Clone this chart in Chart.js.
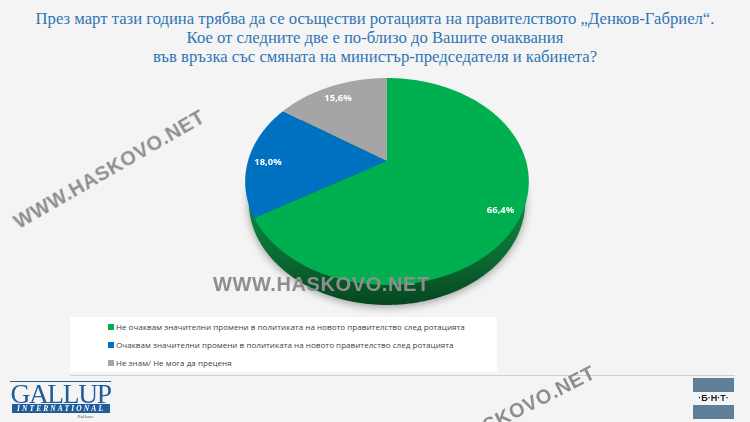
<!DOCTYPE html>
<html>
<head>
<meta charset="utf-8">
<script src="https://cdn.jsdelivr.net/npm/chart.js@4/dist/chart.umd.min.js"></script>
<style>
html, body { margin: 0; padding: 0; }
#page { position: relative; width: 750px; height: 422px; overflow: hidden; background: #f4f4f4; font-family: "Open Sans", sans-serif; }
canvas { position: absolute; left: 0; top: 0; }
#title { position: absolute; left: -75px; top: 9px; width: 900px; text-align: center; color: #2e75b6; font: 17px/19px "Liberation Serif", serif; transform: scaleX(0.98); }
#legend { position: absolute; left: 70px; top: 317px; width: 427px; height: 55px; background: #fff; }
.item { position: absolute; left: 38px; height: 12px; font: 8px/12px "Open Sans", sans-serif; color: #404040; white-space: nowrap; letter-spacing: 0.05px; }
.item i { display: inline-block; width: 6px; height: 6px; margin-right: 2px; }
#rule { position: absolute; left: 70px; top: 375px; width: 665px; height: 1px; background: #cfcfcf; }
.mark { position: absolute; font: bold 20px "Liberation Sans", sans-serif; color: #8e8e8e; white-space: nowrap; letter-spacing: 0.6px; }
#gallup { position: absolute; left: 10px; top: 381px; width: 101px; color: #1f5c99; font-family: "Liberation Serif", serif; text-align: center; }
#gallup .top { border-top: 1px solid #1f5c99; font-size: 27.5px; line-height: 21px; padding-top: 1px; letter-spacing: -1.4px; white-space: nowrap; }
#gallup .band { background: #1f5c99; color: #fff; font: italic bold 7.5px/9px "Liberation Serif", serif; letter-spacing: 2.1px; margin: 0 1px 0 2px; }
#gallup .sub { font-size: 5px; line-height: 7px; padding-left: 50px; color: #5a6f88; }
#bnt { position: absolute; left: 693px; top: 378px; width: 41px; height: 40px; }
#bnt b { position: absolute; left: 0; width: 41px; height: 14px; background: #5f7f98; }
#bnt span { position: absolute; left: 0; top: 14px; width: 41px; text-align: center; font: bold 9px/13px "Liberation Sans", sans-serif; color: #222; }
</style>
</head>
<body>
<div id="page">
  <div id="title">През март тази година трябва да се осъществи ротацията на правителството „Денков-Габриел“.<br>Кое от следните две е по-близо до Вашите очаквания<br>във връзка със смяната на министър-председателя и кабинета?</div>
  <div id="legend"></div>
  <div id="rule"></div>
  <canvas id="pieChart" width="750" height="422"></canvas>
  <div class="mark" style="left:1px;top:158px;transform:rotate(-30deg);">WWW.HASKOVO.NET</div>
  <div class="mark" style="left:213px;top:273px;">WWW.HASKOVO.NET</div>
  <div class="mark" style="left:389px;top:409px;transform:rotate(-27deg);">WWW.HASKOVO.NET</div>
  <div id="gallup">
    <div class="top">GALLUP</div>
    <div class="band">INTERNATIONAL</div>
    <div class="sub">Balkans</div>
  </div>
  <div id="bnt"><b style="top:0"></b><span>·Б·Н·Т·</span><b style="top:27px"></b></div>
</div>
<script>
const categories = [
    'Не очаквам значителни промени в политиката на новото правителство след ротацията',
    'Очаквам значителни промени в политиката на новото правителство след ротацията',
    'Не знам/ Не мога да преценя'
];
const shares = [66.4, 18.0, 15.6];
const colors = ['#00b050', '#0070c0', '#a5a5a5'];

// pie tilted in perspective, the library only gives the angles
const apexX = 387, apexY = 161;
const radiusX = 139, radiusY = 99.4, tilt = -0.198;
const depth = 20;

function project(angle, r, shift, narrow) {
    const u = Math.cos(angle) * r;
    const v = Math.sin(angle) * r;
    const w = 1 + tilt * v;
    return [apexX + radiusX * narrow * u / w, apexY + shift + radiusY * v / w];
}

function tracePath(ctx, start, end, shift, narrow, withApex) {
    ctx.beginPath();
    if (withApex) ctx.moveTo(apexX, apexY + shift);
    const steps = Math.ceil((end - start) / 0.01);
    for (let i = 0; i <= steps; i++) {
        const p = project(start + (end - start) * i / steps, 1, shift, narrow);
        ctx.lineTo(p[0], p[1]);
    }
    ctx.closePath();
}

const tiltedPie = {
    id: 'tiltedPie',
    beforeDatasetDraw(chart, args) {
        const ctx = chart.ctx;
        const arcs = args.meta.data;

        // side of the pie
        const side = ctx.createLinearGradient(0, 200, 0, 305);
        side.addColorStop(0, '#0a8a42');
        side.addColorStop(0.55, '#0a6a33');
        side.addColorStop(1, '#06461f');
        ctx.save();
        ctx.shadowColor = 'rgba(0,0,0,0.35)';
        ctx.shadowBlur = 8;
        ctx.shadowOffsetY = 2;
        ctx.fillStyle = side;
        tracePath(ctx, 0, Math.PI * 2, depth, 0.975, false);
        ctx.fill();
        ctx.restore();

        arcs.forEach((arc, i) => {
            ctx.fillStyle = colors[i];
            tracePath(ctx, arc.startAngle, arc.endAngle, 0, 1, true);
            ctx.fill();
        });

        ctx.fillStyle = '#fff';
        ctx.font = 'bold 9.5px "Open Sans", sans-serif';
        ctx.textAlign = 'center';
        ctx.textBaseline = 'middle';
        arcs.forEach((arc, i) => {
            const p = project((arc.startAngle + arc.endAngle) / 2, 0.86, 0, 1);
            ctx.fillText(shares[i].toFixed(1).replace('.', ',') + '%', p[0], p[1] + 3);
        });
        return false;
    }
};

new Chart(document.getElementById('pieChart'), {
    type: 'pie',
    data: {
        labels: categories,
        datasets: [{ data: shares, backgroundColor: colors, borderWidth: 0 }]
    },
    options: {
        responsive: false,
        animation: false,
        plugins: { legend: { display: false }, tooltip: { enabled: false } }
    },
    plugins: [tiltedPie]
});

// Legend
const legend = document.getElementById('legend');
categories.forEach((name, i) => {
    const item = document.createElement('div');
    item.className = 'item';
    item.style.top = (4 + i * 18) + 'px';
    const box = document.createElement('i');
    box.style.background = colors[i];
    item.appendChild(box);
    item.appendChild(document.createTextNode(name));
    legend.appendChild(item);
});
</script>
</body>
</html>
